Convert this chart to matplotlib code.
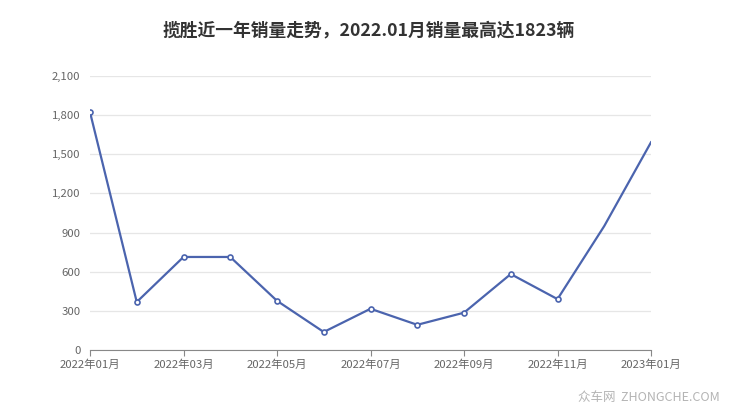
import matplotlib.pyplot as plt
import numpy as np

plt.rcParams['font.family'] = ['Noto Sans CJK SC', 'DejaVu Sans']

TITLE = "揽胜近一年销量走势，2022.01月销量最高达1823辆"

months = ["2022年01月", "2022年02月", "2022年03月", "2022年04月", "2022年05月",
          "2022年06月", "2022年07月", "2022年08月", "2022年09月", "2022年10月",
          "2022年11月", "2022年12月", "2023年01月"]
sales = [1823, 368, 713, 713, 377, 138, 316, 193, 286, 582, 390, 950, 1592]
y_ticks = [0, 300, 600, 900, 1200, 1500, 1800, 2100]

LINE_COLOR = "#4b64ae"


def main():
    fig = plt.figure(figsize=(7.4, 4.17), dpi=100)
    ax = fig.add_axes([90 / 740, 67 / 417, 561 / 740, 274 / 417])

    x = np.arange(len(months))
    ax.plot(x, sales, color=LINE_COLOR, lw=1.6, zorder=3)
    ax.plot(x[:11], sales[:11], ls="none", marker="o", ms=3.6, mfc="white",
            mec=LINE_COLOR, mew=1.2, zorder=4)

    ax.set_xlim(0, len(months) - 1)
    ax.set_ylim(0, 2100)
    ax.set_yticks(y_ticks)
    ax.set_yticklabels([f"{v:,}" for v in y_ticks])
    ax.set_xticks(x[::2])
    ax.set_xticklabels(months[::2])

    ax.grid(axis="y", color="#e6e6e6", lw=0.9)
    ax.set_axisbelow(True)
    for side in ["top", "right", "left"]:
        ax.spines[side].set_visible(False)
    ax.spines["bottom"].set_color("#888888")
    ax.tick_params(axis="y", length=0, pad=7, labelsize=8.2, labelcolor="#666666")
    ax.tick_params(axis="x", length=4, color="#888888", pad=3, labelsize=8.2,
                   labelcolor="#666666")

    fig.text(369 / 740, 1 - 30 / 417, TITLE, ha="center", va="center", fontsize=12.8,
             fontweight="bold", color="#333333")
    fig.text(720 / 740, 1 - 398 / 417, "众车网  ZHONGCHE.COM", ha="right",
             va="center", fontsize=9, color="#b4b4b4")

    fig.savefig("out.png", dpi=100)


if __name__ == "__main__":
    main()
